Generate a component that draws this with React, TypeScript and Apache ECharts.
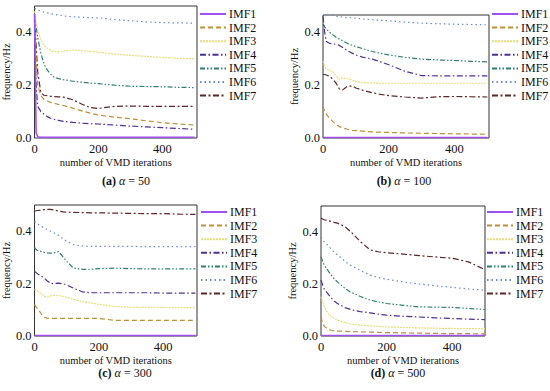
import React, { useEffect, useRef } from "react";
import * as echarts from "echarts";

const iterations = [0, 5, 10, 20, 30, 40, 50, 60, 75, 90, 100, 120, 150, 175, 200, 250, 300, 350, 400, 450, 500];
const seriesNames = ["IMF1", "IMF2", "IMF3", "IMF4", "IMF5", "IMF6", "IMF7"];
const yTicks = [0, 0.2, 0.4];
const xTitle = "number of VMD iterations";
const yTitle = "frequency/Hz";

// (a) alpha = 50
const a_IMF1 = [0.47, 0.02, 0.005, 0.003, 0.003, 0.003, 0.003, 0.003, 0.003, 0.003, 0.003, 0.003, 0.003, 0.003, 0.003, 0.003, 0.003, 0.003, 0.003, 0.003, 0.003];
const a_IMF2 = [0.46, 0.3, 0.2, 0.16, 0.145, 0.14, 0.135, 0.132, 0.127, 0.123, 0.12, 0.113, 0.102, 0.094, 0.087, 0.079, 0.073, 0.065, 0.058, 0.053, 0.049];
const a_IMF3 = [0.48, 0.44, 0.41, 0.37, 0.35, 0.34, 0.332, 0.328, 0.326, 0.328, 0.331, 0.333, 0.331, 0.328, 0.325, 0.318, 0.313, 0.309, 0.305, 0.302, 0.3];
const a_IMF4 = [0.45, 0.2, 0.12, 0.1, 0.09, 0.081, 0.075, 0.071, 0.067, 0.063, 0.062, 0.059, 0.056, 0.054, 0.053, 0.049, 0.045, 0.042, 0.039, 0.036, 0.033];
const a_IMF5 = [0.47, 0.42, 0.38, 0.32, 0.28, 0.257, 0.242, 0.231, 0.225, 0.221, 0.219, 0.215, 0.211, 0.208, 0.206, 0.2, 0.196, 0.195, 0.194, 0.192, 0.191];
const a_IMF6 = [0.49, 0.49, 0.485, 0.48, 0.477, 0.474, 0.471, 0.469, 0.466, 0.463, 0.461, 0.459, 0.457, 0.456, 0.455, 0.449, 0.444, 0.44, 0.437, 0.436, 0.435];
const a_IMF7 = [0.46, 0.35, 0.25, 0.17, 0.162, 0.16, 0.158, 0.157, 0.156, 0.155, 0.152, 0.145, 0.127, 0.115, 0.112, 0.12, 0.121, 0.12, 0.12, 0.12, 0.12];

// (b) alpha = 100
const b_IMF1 = [0.004, 0.002, 0.002, 0.002, 0.002, 0.002, 0.002, 0.002, 0.002, 0.002, 0.002, 0.002, 0.002, 0.002, 0.002, 0.002, 0.002, 0.002, 0.002, 0.002, 0.002];
const b_IMF2 = [0.12, 0.1, 0.09, 0.075, 0.062, 0.051, 0.043, 0.038, 0.033, 0.029, 0.028, 0.026, 0.023, 0.022, 0.021, 0.019, 0.018, 0.017, 0.016, 0.015, 0.014];
const b_IMF3 = [0.29, 0.27, 0.262, 0.255, 0.25, 0.235, 0.222, 0.228, 0.224, 0.218, 0.214, 0.21, 0.208, 0.207, 0.207, 0.207, 0.207, 0.207, 0.207, 0.207, 0.207];
const b_IMF4 = [0.46, 0.4, 0.365, 0.358, 0.356, 0.354, 0.35, 0.342, 0.33, 0.32, 0.314, 0.306, 0.298, 0.288, 0.277, 0.252, 0.236, 0.235, 0.235, 0.235, 0.235];
const b_IMF5 = [0.43, 0.42, 0.412, 0.4, 0.39, 0.381, 0.374, 0.367, 0.357, 0.35, 0.346, 0.338, 0.327, 0.32, 0.314, 0.305, 0.298, 0.295, 0.293, 0.29, 0.288];
const b_IMF6 = [0.47, 0.469, 0.468, 0.466, 0.463, 0.461, 0.459, 0.457, 0.455, 0.454, 0.453, 0.45, 0.447, 0.445, 0.443, 0.438, 0.434, 0.432, 0.43, 0.429, 0.428];
const b_IMF7 = [0.24, 0.24, 0.238, 0.233, 0.222, 0.207, 0.185, 0.182, 0.196, 0.196, 0.189, 0.181, 0.171, 0.165, 0.16, 0.155, 0.151, 0.156, 0.157, 0.156, 0.155];

// (c) alpha = 300
const c_IMF1 = [0.002, 0.002, 0.002, 0.002, 0.002, 0.002, 0.002, 0.002, 0.002, 0.002, 0.002, 0.002, 0.002, 0.002, 0.002, 0.002, 0.002, 0.002, 0.002, 0.002, 0.002];
const c_IMF2 = [0.12, 0.11, 0.104, 0.086, 0.071, 0.068, 0.067, 0.067, 0.067, 0.067, 0.067, 0.067, 0.067, 0.067, 0.067, 0.06, 0.06, 0.06, 0.06, 0.06, 0.06];
const c_IMF3 = [0.178, 0.175, 0.171, 0.163, 0.152, 0.148, 0.153, 0.155, 0.154, 0.151, 0.148, 0.14, 0.131, 0.126, 0.121, 0.113, 0.109, 0.109, 0.109, 0.108, 0.108];
const c_IMF4 = [0.246, 0.242, 0.237, 0.23, 0.221, 0.21, 0.201, 0.2, 0.202, 0.199, 0.195, 0.183, 0.168, 0.165, 0.165, 0.165, 0.165, 0.165, 0.164, 0.164, 0.164];
const c_IMF5 = [0.338, 0.33, 0.326, 0.323, 0.319, 0.317, 0.316, 0.317, 0.322, 0.3, 0.285, 0.26, 0.254, 0.255, 0.257, 0.259, 0.257, 0.256, 0.256, 0.256, 0.256];
const c_IMF6 = [0.438, 0.432, 0.427, 0.419, 0.412, 0.406, 0.4, 0.394, 0.384, 0.37, 0.362, 0.349, 0.343, 0.342, 0.342, 0.342, 0.342, 0.341, 0.341, 0.341, 0.341];
const c_IMF7 = [0.477, 0.478, 0.479, 0.481, 0.482, 0.483, 0.483, 0.481, 0.477, 0.474, 0.473, 0.472, 0.471, 0.47, 0.47, 0.469, 0.468, 0.467, 0.467, 0.465, 0.464];

// (d) alpha = 500
const d_IMF1 = [0.002, 0.002, 0.002, 0.002, 0.002, 0.002, 0.002, 0.002, 0.002, 0.002, 0.002, 0.002, 0.002, 0.002, 0.002, 0.002, 0.002, 0.002, 0.002, 0.002, 0.002];
const d_IMF2 = [0.073, 0.05, 0.037, 0.027, 0.022, 0.02, 0.019, 0.019, 0.018, 0.017, 0.017, 0.016, 0.015, 0.014, 0.013, 0.012, 0.011, 0.01, 0.009, 0.009, 0.008];
const d_IMF3 = [0.151, 0.13, 0.112, 0.089, 0.077, 0.068, 0.061, 0.057, 0.051, 0.047, 0.045, 0.042, 0.039, 0.037, 0.035, 0.033, 0.031, 0.03, 0.029, 0.028, 0.028];
const d_IMF4 = [0.215, 0.195, 0.18, 0.164, 0.148, 0.135, 0.125, 0.118, 0.108, 0.102, 0.099, 0.094, 0.089, 0.084, 0.08, 0.076, 0.073, 0.07, 0.067, 0.065, 0.063];
const d_IMF5 = [0.305, 0.288, 0.272, 0.254, 0.236, 0.22, 0.208, 0.197, 0.181, 0.169, 0.164, 0.152, 0.138, 0.131, 0.125, 0.118, 0.112, 0.111, 0.11, 0.106, 0.102];
const d_IMF6 = [0.38, 0.37, 0.362, 0.35, 0.335, 0.322, 0.312, 0.302, 0.285, 0.272, 0.266, 0.252, 0.234, 0.225, 0.218, 0.208, 0.2, 0.193, 0.187, 0.181, 0.176];
const d_IMF7 = [0.453, 0.45, 0.447, 0.444, 0.441, 0.437, 0.434, 0.429, 0.418, 0.402, 0.389, 0.363, 0.331, 0.324, 0.32, 0.315, 0.309, 0.304, 0.299, 0.285, 0.255];

const panelA = [a_IMF1, a_IMF2, a_IMF3, a_IMF4, a_IMF5, a_IMF6, a_IMF7];
const panelB = [b_IMF1, b_IMF2, b_IMF3, b_IMF4, b_IMF5, b_IMF6, b_IMF7];
const panelC = [c_IMF1, c_IMF2, c_IMF3, c_IMF4, c_IMF5, c_IMF6, c_IMF7];
const panelD = [d_IMF1, d_IMF2, d_IMF3, d_IMF4, d_IMF5, d_IMF6, d_IMF7];

const captionLetters = ["(a)", "(b)", "(c)", "(d)"];
const alphaValues = ["50", "100", "300", "500"];

const FONT = "Liberation Serif, Times New Roman, serif";

const colors = ["#a04ff0", "#c0903a", "#eadc78", "#4e3192", "#2f8070", "#6b8bd8", "#5e2626"];
const dashes: any[] = [
  "solid",
  [5, 3],
  [2, 1],
  [6, 2.5, 1.5, 2.5],
  [5, 2, 1.5, 2, 1.5, 2],
  [1.5, 3],
  [6, 2.5, 2, 2.5],
];

const layouts = [
  { left: 32, top: 6, width: 165, height: 132, xMax: 508, yMax: 0.5, legendLeft: 199, legendTop: 8, capX: 126, capY: 181 },
  { left: 323, top: 15, width: 166, height: 123, xMax: 505, yMax: 0.465, legendLeft: 491, legendTop: 8, capX: 404, capY: 181 },
  { left: 33, top: 205, width: 164, height: 131, xMax: 505, yMax: 0.5, legendLeft: 200, legendTop: 206, capX: 125, capY: 373 },
  { left: 321, top: 206, width: 164, height: 130, xMax: 500, yMax: 0.5, legendLeft: 486, legendTop: 206, capX: 398, capY: 373 },
];

export default function App() {
  const ref = useRef<HTMLDivElement>(null);
  useEffect(() => {
    if (!ref.current) return;
    const chart = echarts.init(ref.current, null, { renderer: "svg" });
    const panels = [panelA, panelB, panelC, panelD];
    const grid: any[] = [];
    const xAxis: any[] = [];
    const yAxis: any[] = [];
    const legend: any[] = [];
    const series: any[] = [];
    const graphic: any[] = [];
    layouts.forEach((L, p) => {
      grid.push({
        left: L.left, top: L.top, width: L.width, height: L.height,
        show: true, borderColor: "#333333", borderWidth: 1, backgroundColor: "transparent",
      });
      xAxis.push({
        type: "value", gridIndex: p, min: 0, max: L.xMax, interval: 200,
        axisLine: { show: false }, axisTick: { show: false }, splitLine: { show: false },
        axisLabel: { showMaxLabel: false, fontFamily: FONT, fontSize: 12.5, color: "#111", margin: 4 },
        name: xTitle, nameLocation: "middle", nameGap: 19,
        nameTextStyle: { fontFamily: FONT, fontSize: 10.5, color: "#111", lineHeight: 11 },
      });
      yAxis.push({
        type: "value", gridIndex: p, min: 0, max: L.yMax, interval: 0.2,
        axisLine: { show: false }, axisTick: { show: false }, splitLine: { show: false },
        axisLabel: {
          formatter: (v: number) => (yTicks.some((t) => Math.abs(t - v) < 1e-6) ? v.toFixed(1) : ""),
          fontFamily: FONT, fontSize: 12.5, color: "#111", margin: 3,
        },
        name: yTitle, nameLocation: "middle", nameGap: 17, nameRotate: 90,
        nameTextStyle: { fontFamily: FONT, fontSize: 10.5, color: "#111" },
      });
      legend.push({
        orient: "vertical", left: L.legendLeft, top: L.legendTop, padding: 0,
        itemWidth: 26, itemHeight: 12, itemGap: 1.6,
        data: seriesNames, selectedMode: false,
        itemStyle: { opacity: 0, borderWidth: 0 },
        textStyle: { fontFamily: FONT, fontSize: 12, color: "#111", padding: [0, 0, 0, -2] },
      });
      panels[p].forEach((vals, i) => {
        series.push({
          type: "line", name: seriesNames[i], xAxisIndex: p, yAxisIndex: p,
          data: iterations.map((x, k) => [x, vals[k]]),
          symbol: "none", showSymbol: false,
          lineStyle: { color: colors[i], width: i === 0 ? 1.6 : 1.2, type: dashes[i] },
          itemStyle: { color: colors[i] },
          z: 10 - i,
        });
      });
      graphic.push({
        type: "text",
        style: {
          text: `{b|${captionLetters[p]}} {i|α} = ${alphaValues[p]}`,
          x: L.capX, y: L.capY, align: "center", verticalAlign: "middle",
          fontFamily: FONT, fontSize: 12, fill: "#111", lineHeight: 12,
          rich: {
            b: { fontFamily: FONT, fontSize: 12, fontWeight: "bold", color: "#111", lineHeight: 12 },
            i: { fontFamily: FONT, fontSize: 12, fontStyle: "italic", color: "#111", lineHeight: 12 },
          },
        },
      });
    });
    chart.setOption({
      animation: false,
      backgroundColor: "#ffffff",
      grid, xAxis, yAxis, legend, series, graphic,
    });
    return () => chart.dispose();
  }, []);
  return <div ref={ref} style={{ position: "fixed", left: 0, top: 0, width: 550, height: 391 }} />;
}
